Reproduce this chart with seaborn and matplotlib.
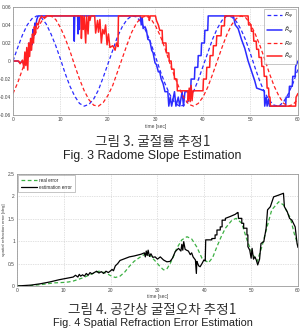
import matplotlib
matplotlib.use("Agg")
import matplotlib.pyplot as plt
import seaborn as sns
import pandas as pd

# ---------------- data ----------------
t_ref = list(range(61))
blue_ref = [0.000, 0.015, 0.029, 0.040, 0.047, 0.050, 0.048, 0.041, 0.030, 0.017,
            0.002, -0.014, -0.028, -0.039, -0.047, -0.050, -0.048, -0.042, -0.032, -0.018,
            -0.003, 0.012, 0.027, 0.038, 0.046, 0.050, 0.049, 0.043, 0.033, 0.020,
            0.005, -0.011, -0.025, -0.037, -0.046, -0.050, -0.049, -0.044, -0.034, -0.021,
            -0.006, 0.009, 0.024, 0.036, 0.045, 0.050, 0.049, 0.044, 0.035, 0.023,
            0.008, -0.008, -0.023, -0.035, -0.044, -0.049, -0.050, -0.045, -0.036, -0.024,
            -0.009]
red_ref = [-0.036, -0.024, -0.009, 0.006, 0.021, 0.034, 0.044, 0.049, 0.050, 0.046,
           0.037, 0.025, 0.011, -0.005, -0.020, -0.033, -0.043, -0.049, -0.050, -0.046,
           -0.038, -0.027, -0.012, 0.003, 0.018, 0.032, 0.042, 0.048, 0.050, 0.047,
           0.039, 0.028, 0.014, -0.002, -0.017, -0.030, -0.041, -0.048, -0.050, -0.047,
           -0.040, -0.029, -0.015, 0.000, 0.015, 0.029, 0.040, 0.047, 0.050, 0.048,
           0.041, 0.030, 0.017, 0.002, -0.014, -0.028, -0.039, -0.047, -0.050, -0.048,
           -0.042]

blue_est = [(0, 0), (1, 0), (1.5, -0.002), (2, 0), (2.3, -0.004), (2.6, 0.002), (2.8, -0.003),
            (3.0, 0.010), (3.2, 0.004), (3.4, 0.020), (3.6, 0.012), (3.8, 0.025), (4.0, 0.018),
            (4.2, 0.035), (4.4, 0.028), (4.6, 0.042), (4.8, 0.038), (5.0, 0.046), (5.3, 0.050),
            (12.8, 0.050), (12.9, 0.022), (13.0, 0.050), (13.6, 0.050), (13.7, 0.030),
            (13.8, 0.050), (14.0, 0.035), (14.1, 0.050), (26.8, 0.050), (27.0, 0.040),
            (27.2, 0.048), (27.4, 0.036), (27.8, 0.038), (28.1, 0.034), (28.4, 0.024),
            (28.8, 0.023), (29.2, 0.012), (29.5, 0.009), (29.9, -0.002), (30.2, -0.004),
            (30.6, -0.012), (30.9, -0.012), (31.2, -0.020), (31.6, -0.025), (32.0, -0.034),
            (32.6, -0.034), (32.8, -0.050), (33.1, -0.040), (33.4, -0.050), (34.0, -0.034),
            (34.3, -0.050), (34.8, -0.040), (35.1, -0.050), (35.6, -0.034), (35.9, -0.050),
            (36.2, -0.034), (37.4, -0.034), (37.5, -0.020), (38.2, -0.020), (38.3, -0.007),
            (38.9, -0.007), (39.0, 0.006), (39.6, 0.006), (39.7, 0.020), (40.3, 0.020),
            (40.4, 0.034), (41.0, 0.034), (41.1, 0.050), (46.4, 0.050), (46.8, 0.040),
            (47.4, 0.036), (48.1, 0.024), (48.8, 0.014), (49.5, 0.000), (50.2, -0.011),
            (50.9, -0.022), (51.3, -0.030), (52.9, -0.033), (53.0, -0.050), (53.3, -0.040),
            (53.5, -0.050), (53.8, -0.042), (54.0, -0.050), (57.4, -0.050), (57.5, -0.040),
            (58.1, -0.040), (58.2, -0.028), (58.8, -0.028), (58.9, -0.017), (59.4, -0.017),
            (59.5, -0.006), (60.0, 0.000)]

red_est = [(0, 0), (1.2, 0), (1.5, -0.003), (2.0, 0.001), (2.3, -0.008), (2.5, 0.010),
           (2.7, -0.005), (2.9, 0.015), (3.1, -0.010), (3.3, 0.020), (3.5, 0.005),
           (3.7, 0.025), (3.9, 0.012), (4.1, 0.030), (4.3, 0.020), (4.5, 0.038), (4.7, 0.030),
           (5.0, 0.042), (5.3, 0.040), (5.6, 0.046), (6.0, 0.050), (6.5, 0.048), (7.0, 0.050),
           (14.3, 0.050), (14.4, 0.025), (14.6, 0.050), (14.8, 0.035), (15.0, 0.050),
           (15.3, 0.020), (15.5, 0.050), (15.8, 0.030), (16.0, 0.050), (16.2, 0.045),
           (16.4, 0.050), (17.2, 0.050), (17.4, 0.031), (17.8, 0.045), (18.0, 0.032),
           (18.3, 0.046), (18.6, 0.020), (18.9, 0.035), (19.2, 0.030), (19.5, 0.040),
           (19.8, 0.018), (20.1, 0.030), (20.4, 0.015), (21.0, 0.017), (21.5, 0.012),
           (21.8, 0.020), (22.1, 0.016), (22.2, 0.050), (28.6, 0.050), (28.7, 0.045),
           (28.9, 0.050), (30.0, 0.050), (30.2, 0.045), (30.6, 0.040), (30.9, 0.034),
           (31.4, 0.034), (31.5, 0.020), (32.2, 0.020), (32.3, 0.009), (32.8, 0.009),
           (32.9, 0.000), (33.3, 0.000), (33.4, -0.009), (33.9, -0.009), (34.0, -0.020),
           (34.5, -0.020), (34.6, -0.033), (36.8, -0.033), (36.9, -0.044), (37.1, -0.030),
           (37.3, -0.045), (37.5, -0.027), (37.7, -0.044), (37.9, -0.033), (40.0, -0.033),
           (40.1, -0.020), (40.7, -0.020), (40.8, -0.007), (41.4, -0.007), (41.5, 0.006),
           (42.1, 0.006), (42.2, 0.017), (42.8, 0.017), (42.9, 0.028), (43.8, 0.028),
           (43.9, 0.039), (44.5, 0.039), (44.6, 0.050), (49.5, 0.050), (49.6, 0.040),
           (50.1, 0.040), (50.2, 0.033), (50.6, 0.033), (50.7, 0.022), (51.2, 0.022),
           (51.3, 0.013), (51.7, 0.013), (51.8, 0.004), (52.3, 0.004), (52.4, -0.006),
           (52.8, -0.006), (52.9, -0.017), (53.4, -0.017), (53.5, -0.030), (53.8, -0.030),
           (53.9, -0.040), (54.1, -0.040), (54.2, -0.050), (59.5, -0.050), (59.6, -0.040),
           (60.0, -0.036)]

green_t = [0, 3, 5, 8, 10, 11, 12, 14, 16, 17.5,
           19, 20, 21, 22, 23, 24, 25, 26.5, 27.5, 28.5,
           29.5, 30.5, 31.3, 32, 32.7, 33.5, 34.1, 35.2, 36.3, 37.3,
           38.4, 39.5, 40.9, 41.8, 42.7, 43.6, 44.5, 45.9, 46.8, 48,
           49.1, 50.2, 51.3, 52.3, 53.4, 54.4, 55.9, 56.9, 58.4, 59.2,
           60]
green_v = [0, 0.01, 0.03, 0.07, 0.08, 0.09, 0.11, 0.18, 0.27, 0.33,
           0.29, 0.23, 0.19, 0.22, 0.31, 0.44, 0.55, 0.66, 0.72, 0.67,
           0.56, 0.44, 0.36, 0.38, 0.50, 0.68, 0.84, 1.03, 1.10, 1.05,
           0.87, 0.62, 0.52, 0.64, 0.88, 1.10, 1.29, 1.47, 1.51, 1.40,
           1.03, 0.73, 0.55, 0.88, 1.32, 1.70, 1.88, 1.81, 1.51, 1.17,
           0.91]

black_est = [(0, 0), (3, 0.02), (5, 0.05), (7, 0.09), (9, 0.14), (10, 0.16), (11, 0.18),
             (12, 0.20), (12.5, 0.24), (13, 0.20), (13.3, 0.26), (13.6, 0.22), (14, 0.25),
             (14.4, 0.22), (14.8, 0.28), (15.2, 0.24), (15.6, 0.30), (16, 0.27), (16.5, 0.30),
             (17, 0.33), (17.5, 0.29), (18, 0.32), (18.5, 0.28), (19, 0.33), (19.5, 0.30),
             (20, 0.34), (20.3, 0.37), (20.6, 0.34), (21, 0.45), (21.5, 0.50), (22, 0.57),
             (23, 0.61), (24, 0.65), (25, 0.67), (26.5, 0.71), (27.2, 0.74), (27.4, 0.65),
             (27.6, 0.78), (27.8, 0.68), (28, 0.80), (28.3, 0.66), (28.6, 0.72), (29, 0.64),
             (29.5, 0.65), (30, 0.60), (30.6, 0.65), (31.3, 0.58), (32, 0.54), (32.7, 0.55),
             (33.2, 0.62), (33.8, 0.77), (34.5, 0.84), (35, 0.78), (35.2, 0.93), (35.4, 0.80),
             (35.6, 0.99), (35.9, 0.82), (36.2, 0.80), (36.6, 0.78), (37, 0.70), (37.3, 0.74),
             (37.6, 0.65), (38.1, 0.58), (38.3, 0.28), (38.4, 0.55), (38.6, 0.50), (38.8, 0.45),
             (39.1, 0.43), (39.5, 0.50), (39.9, 0.58), (40.2, 0.56), (40.3, 1.03), (41.6, 1.03),
             (41.6, 1.06), (42.3, 1.06), (42.3, 1.14), (42.7, 1.14), (42.7, 1.25), (43.4, 1.25),
             (43.4, 1.32), (43.8, 1.32), (43.8, 1.47), (44.5, 1.47), (44.5, 1.51), (45.5, 1.55),
             (46.6, 1.60), (47.1, 1.64), (47.2, 1.64), (47.3, 1.51), (48, 1.51), (48, 1.40),
             (48.4, 1.40), (48.4, 1.29), (49.1, 1.29), (49.1, 1.14), (49.3, 1.14), (49.3, 0.88),
             (49.7, 0.80), (50, 0.62), (50.2, 0.84), (50.5, 0.60), (50.8, 0.65), (51.1, 0.58),
             (51.4, 0.47), (51.8, 0.60), (52.1, 0.95), (52.7, 0.99), (53.2, 1.29), (53.5, 1.70),
             (54.1, 1.77), (54.8, 1.99), (55.9, 2.03), (56.9, 2.07), (57.1, 1.77), (57.7, 1.66),
             (58.2, 1.51), (58.7, 1.47), (59.4, 1.32), (59.8, 0.95), (60, 0.86)]

top_labels = [r'$R_{\psi}$', r'$\hat{R}_{\psi}$', r'$R_{\theta}$', r'$\hat{R}_{\theta}$']
bottom_labels = ['real error', 'estimation error']
x_ticks = [0, 10, 20, 30, 40, 50, 60]
top_yticks = [-0.06, -0.04, -0.02, 0, 0.02, 0.04, 0.06]
top_yticklabels = ['-0.06', '-0.04', '-0.02', '0', '0.02', '0.04', '0.06']
bot_yticks = [0, 0.5, 1, 1.5, 2, 2.5]
bot_yticklabels = ['0', '0.5', '1', '1.5', '2', '2.5']

# ---------------- figure ----------------
sns.set_style("white")
plt.rcParams['font.family'] = ['Liberation Sans', 'DejaVu Sans']
plt.rcParams['mathtext.fontset'] = 'dejavusans'

fig = plt.figure(figsize=(3.05, 3.29), dpi=100)
ax1 = fig.add_axes([0.0426, 0.650, 0.9344, 0.329])
ax2 = fig.add_axes([0.0557, 0.1307, 0.9213, 0.3404])

BLUE = '#2b2bff'
RED = '#ff2020'

df_b = pd.DataFrame({'t': t_ref, 'v': blue_ref})
df_r = pd.DataFrame({'t': t_ref, 'v': red_ref})
df_be = pd.DataFrame(blue_est, columns=['t', 'v'])
df_re = pd.DataFrame(red_est, columns=['t', 'v'])

sns.lineplot(data=df_b, x='t', y='v', ax=ax1, color=BLUE, lw=0.9, linestyle=(0, (3, 2)),
             label=top_labels[0], sort=False, estimator=None)
sns.lineplot(data=df_be, x='t', y='v', ax=ax1, color=BLUE, lw=1.1,
             label=top_labels[1], sort=False, estimator=None)
sns.lineplot(data=df_r, x='t', y='v', ax=ax1, color=RED, lw=0.9, linestyle=(0, (3, 2)),
             label=top_labels[2], sort=False, estimator=None)
sns.lineplot(data=df_re, x='t', y='v', ax=ax1, color=RED, lw=1.1,
             label=top_labels[3], sort=False, estimator=None)

df_g = pd.DataFrame({'t': green_t, 'v': green_v})
df_k = pd.DataFrame(black_est, columns=['t', 'v'])
sns.lineplot(data=df_g, x='t', y='v', ax=ax2, color='#3cb043', lw=0.9, linestyle=(0, (3, 2)),
             label=bottom_labels[0], sort=False, estimator=None)
sns.lineplot(data=df_k, x='t', y='v', ax=ax2, color='black', lw=0.9,
             label=bottom_labels[1], sort=False, estimator=None)

for ax in (ax1, ax2):
    ax.set_xlim(0, 60)
    ax.set_xticks(x_ticks)
    ax.set_xticklabels([str(x) for x in x_ticks])
    ax.grid(True, linestyle=(0, (1, 1.5)), color='#c4c4c4', lw=0.5)
    ax.tick_params(labelsize=3.5, length=1.5, width=0.4, direction='in', pad=1.5,
                   colors='#444444')
    for s in ax.spines.values():
        s.set_color('#999999')
        s.set_linewidth(0.6)
    ax.set_xlabel('time [sec]', fontsize=3.5, labelpad=1, color='#444444')

ax1.set_ylim(-0.06, 0.06)
ax1.set_yticks(top_yticks)
ax1.set_yticklabels(top_yticklabels)
ax1.set_ylabel('')
ax2.set_ylim(0, 2.5)
ax2.set_yticks(bot_yticks)
ax2.set_yticklabels(bot_yticklabels)
ax2.set_ylabel('spatial refraction error [deg]', fontsize=3.2, labelpad=1.5, color='#444444')

leg1 = ax1.legend(loc='upper right', fontsize=4.5, handlelength=2.4, labelspacing=0.45,
                  borderpad=0.4, borderaxespad=0.3, frameon=True, fancybox=False,
                  handletextpad=0.4)
leg1.get_frame().set_edgecolor('#999999')
leg1.get_frame().set_linewidth(0.5)
leg2 = ax2.legend(loc='upper left', fontsize=3.3, handlelength=3.5, labelspacing=0.5,
                  borderpad=0.5, borderaxespad=0.3, frameon=True, fancybox=False,
                  handletextpad=0.6)
leg2.get_frame().set_edgecolor('#999999')
leg2.get_frame().set_linewidth(0.5)

kr = ['Noto Sans CJK KR', 'DejaVu Sans']
fig.text(0.5, 1 - 142 / 329, '그림 3. 굴절률 추정1', ha='center', va='center',
         fontsize=9.8, family=kr, color='#333333')
fig.text(0.5, 1 - 156 / 329, 'Fig. 3 Radome Slope Estimation', ha='center', va='center',
         fontsize=8.9, color='#222222')
fig.text(0.5, 1 - 310 / 329, '그림 4. 공간상 굴절오차 추정1', ha='center', va='center',
         fontsize=9.8, family=kr, color='#333333')
fig.text(0.5, 1 - 323 / 329, 'Fig. 4 Spatial Refraction Error Estimation', ha='center',
         va='center', fontsize=7.9, color='#222222')

fig.savefig('out.png', dpi=100)
